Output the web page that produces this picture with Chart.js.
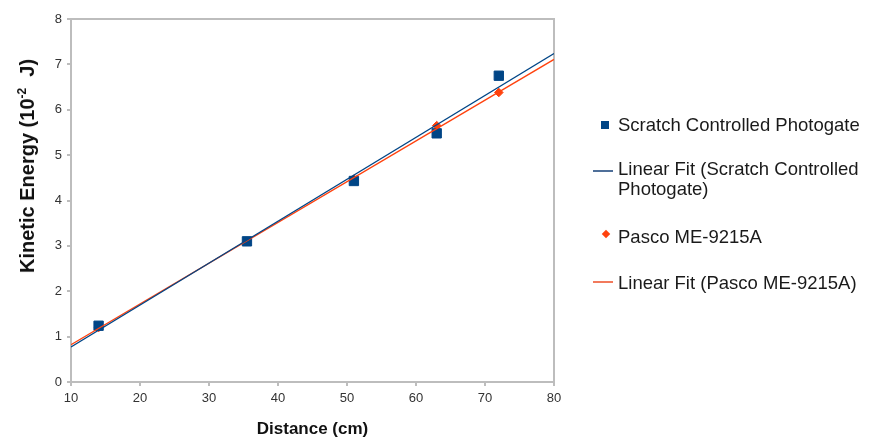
<!DOCTYPE html>
<html>
<head>
<meta charset="utf-8">
<script src="https://cdn.jsdelivr.net/npm/chart.js@4/dist/chart.umd.min.js"></script>
<style>
  html, body { margin: 0; padding: 0; background: #ffffff; }
  #wrap { position: relative; width: 869px; height: 443px; overflow: hidden; font-family: "Liberation Sans", Arial, sans-serif; }
  #c { position: absolute; left: 0; top: 0; }
  #ytitle { position: absolute; left: 27px; top: 166px; transform: translate(-50%, -50%) rotate(-90deg);
            white-space: nowrap; font-weight: bold; font-size: 20px; line-height: 22px; color: #111; }
  #ytitle sup { font-size: 12px; line-height: 0; vertical-align: 8px; }
  .lg { position: absolute; white-space: nowrap; font-size: 18.5px; line-height: 20px; color: #1a1a1a; }
  .mk { position: absolute; }
</style>
</head>
<body>
<div id="wrap">
  <canvas id="c" width="869" height="443"></canvas>
  <div id="ytitle">Kinetic Energy (10<sup>-2</sup>&nbsp; J)</div>
  <div id="legend"></div>
</div>
<script>
// ---- data ----
const distance = [14, 35.5, 51, 63, 72];                 // cm
const scratchEnergy = [1.24, 3.10, 4.43, 5.48, 6.75];   // 10^-2 J
const pascoEnergy = [1.20, 3.10, 4.47, 5.65, 6.38];     // 10^-2 J
const fitDistance = [10, 80];
const scratchFitEnergy = [0.77, 7.24];
const pascoFitEnergy = [0.82, 7.11];
const xTicks = [10, 20, 30, 40, 50, 60, 70, 80];
const yTicks = [0, 1, 2, 3, 4, 5, 6, 7, 8];
const seriesNames = ['Scratch Controlled Photogate', 'Linear Fit (Scratch Controlled Photogate)',
                     'Pasco ME-9215A', 'Linear Fit (Pasco ME-9215A)'];
const xTitle = 'Distance (cm)';

const BLUE = '#004586';
const ORANGE = '#ff420e';
const AXIS = '#bdbdbd';

const toPts = (xs, ys) => xs.map((x, i) => ({ x: x, y: ys[i] }));

const framePlugin = {
  id: 'frame',
  beforeDatasetsDraw(chart) {
    const a = chart.chartArea, ctx = chart.ctx;
    ctx.save();
    ctx.strokeStyle = AXIS;
    ctx.lineWidth = 2;
    ctx.beginPath();
    ctx.moveTo(a.left, a.top);
    ctx.lineTo(a.right, a.top);
    ctx.lineTo(a.right, a.bottom);
    ctx.stroke();
    ctx.restore();
  }
};

new Chart(document.getElementById('c'), {
  type: 'scatter',
  data: {
    datasets: [
      { label: seriesNames[1], data: toPts(fitDistance, scratchFitEnergy), showLine: true,
        borderColor: BLUE, borderWidth: 1.3, pointRadius: 0, fill: false, order: 0 },
      { label: seriesNames[3], data: toPts(fitDistance, pascoFitEnergy), showLine: true,
        borderColor: ORANGE, borderWidth: 1.3, pointRadius: 0, fill: false, order: 1 },
      { label: seriesNames[0], data: toPts(distance, scratchEnergy), pointStyle: 'rect',
        pointRadius: 6.6, borderWidth: 1, backgroundColor: BLUE, borderColor: BLUE, order: 2 },
      { label: seriesNames[2], data: toPts(distance, pascoEnergy), pointStyle: 'rectRot',
        pointRadius: 4.3, borderWidth: 1, backgroundColor: ORANGE, borderColor: ORANGE, order: 3 }
    ]
  },
  options: {
    responsive: false,
    animation: false,
    devicePixelRatio: 1,
    layout: { padding: { top: 19, right: 315, left: 0, bottom: 0 } },
    plugins: { legend: { display: false }, tooltip: { enabled: false } },
    scales: {
      x: {
        type: 'linear', min: 10, max: 80,
        afterBuildTicks: s => { s.ticks = xTicks.map(v => ({ value: v })); },
        afterFit: s => { s.height = 61; },
        grid: { display: true, drawOnChartArea: false, drawTicks: true, tickLength: 4, color: AXIS, lineWidth: 2 },
        border: { display: true, color: AXIS, width: 2 },
        ticks: { color: '#333', font: { family: 'Liberation Sans', size: 13 }, padding: 5, maxRotation: 0 },
        title: { display: true, text: xTitle, color: '#111',
                 font: { family: 'Liberation Sans', size: 17, weight: 'bold' }, padding: { top: 0, bottom: 3 } }
      },
      y: {
        type: 'linear', min: 0, max: 8,
        afterBuildTicks: s => { s.ticks = yTicks.map(v => ({ value: v })); },
        afterFit: s => { s.width = 71; },
        grid: { display: true, drawOnChartArea: false, drawTicks: true, tickLength: 4, color: AXIS, lineWidth: 2 },
        border: { display: true, color: AXIS, width: 2 },
        ticks: { color: '#333', font: { family: 'Liberation Sans', size: 13 }, padding: 5 },
        title: { display: false }
      }
    }
  },
  plugins: [framePlugin]
});

// ---- HTML legend (with the wrapped second entry, as in the reference) ----
const legend = document.getElementById('legend');
function addText(txt, left, cy) {
  const d = document.createElement('div');
  d.className = 'lg';
  d.textContent = txt;
  d.style.left = left + 'px';
  d.style.top = (cy - 10) + 'px';
  legend.appendChild(d);
}
function addMarker(css) {
  const m = document.createElement('div');
  m.className = 'mk';
  Object.assign(m.style, css);
  legend.appendChild(m);
}
// entry 1: square
addMarker({ left: '601px', top: '121px', width: '8px', height: '8px', background: BLUE });
addText(seriesNames[0], 618, 125);
// entry 2: blue line, two text lines
addMarker({ left: '593px', top: '170px', width: '20px', height: '1.5px', background: '#4f6f99' });
addText('Linear Fit (Scratch Controlled', 618, 169);
addText('Photogate)', 618, 189);
// entry 3: diamond
addMarker({ left: '603px', top: '231px', width: '6px', height: '6px', background: ORANGE, transform: 'rotate(45deg)' });
addText(seriesNames[2], 618, 237);
// entry 4: orange line
addMarker({ left: '593px', top: '281px', width: '20px', height: '1.5px', background: '#f27a5c' });
addText(seriesNames[3], 618, 283);
</script>
</body>
</html>
